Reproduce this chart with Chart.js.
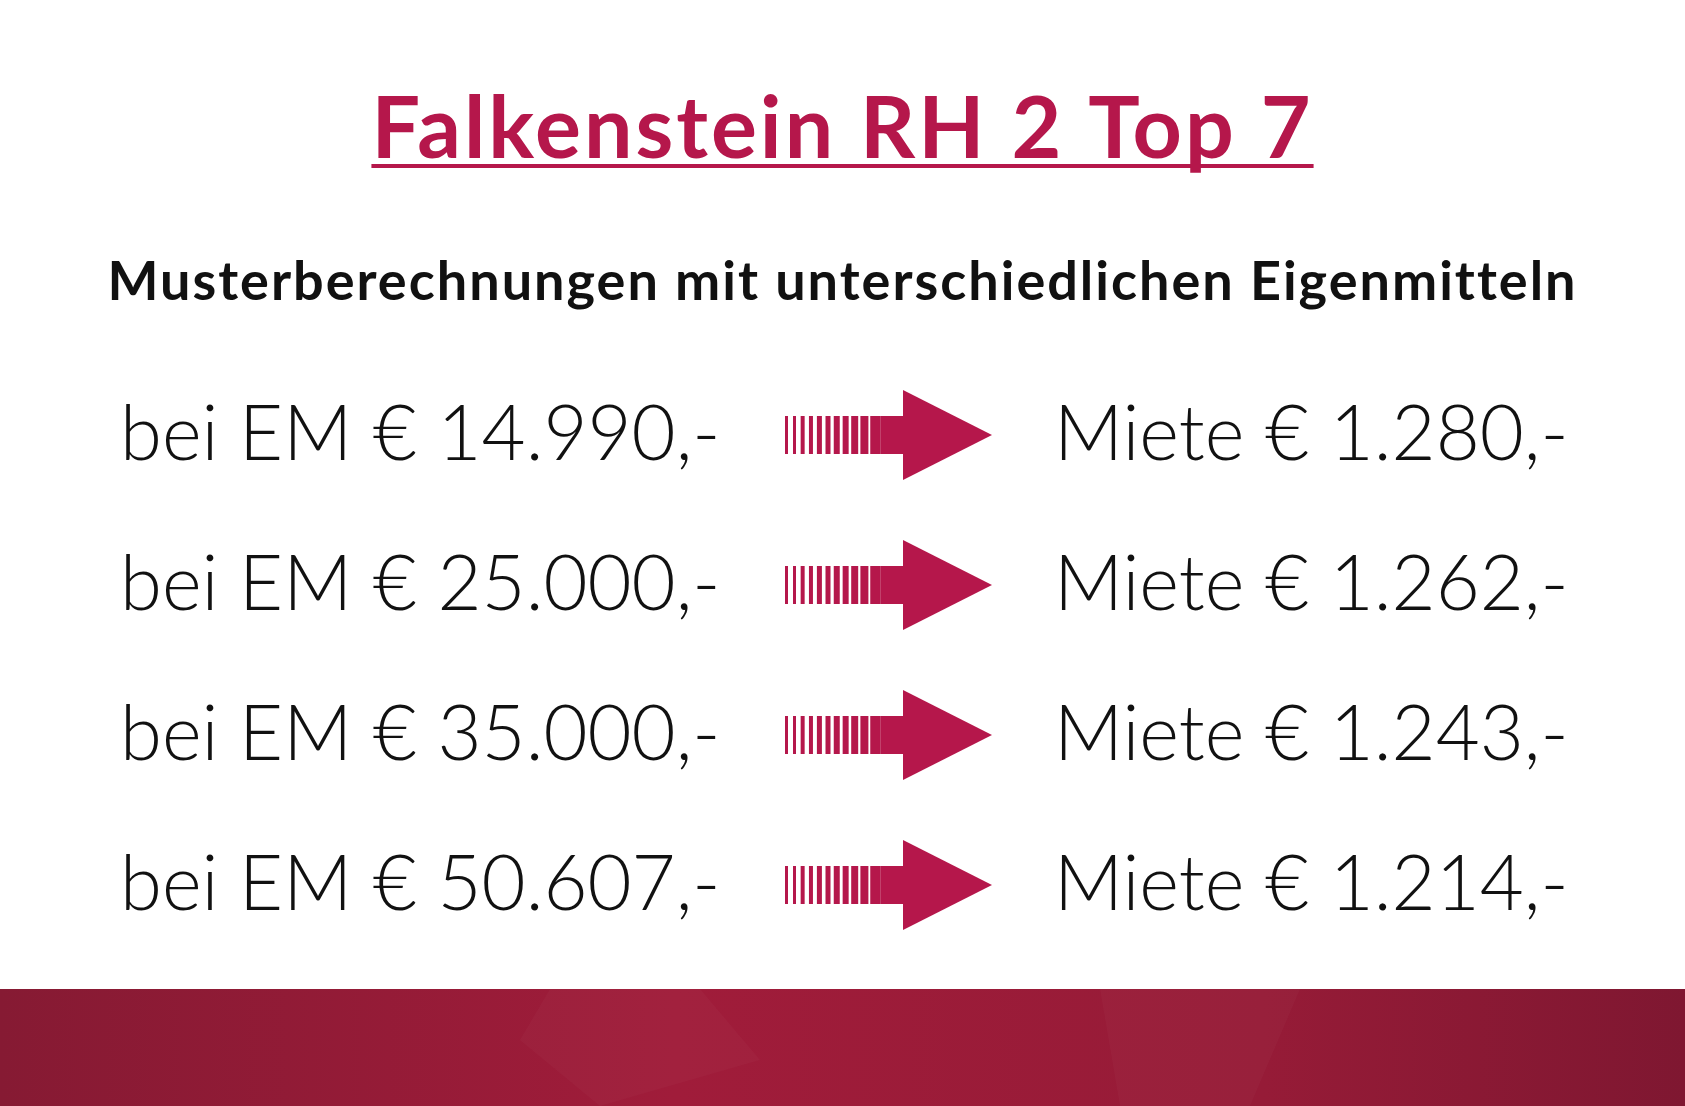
<!DOCTYPE html>
<html><head><meta charset="utf-8">
<script src="https://cdn.jsdelivr.net/npm/chart.js@4/dist/chart.umd.min.js"></script>
<style>html,body{margin:0;padding:0;background:#fff;overflow:hidden}#c{display:block}</style>
</head><body>
<div style="width:1685px;height:1106px;position:relative"><canvas id="c"></canvas></div>
<script>
const title = "Falkenstein RH 2 Top 7";
const subtitle = "Musterberechnungen mit unterschiedlichen Eigenmitteln";
const rows = ["r1","r2","r3","r4"];
const eigenmittel = ["14.990", "25.000", "35.000", "50.607"];
const miete = ["1.280", "1.262", "1.243", "1.214"];
const RED = "#b5174b";

const drawPlugin = {
  id: "infographic",
  afterDraw(chart) {
    const ctx = chart.ctx, y = chart.scales.y, W = chart.width, H = chart.height;
    ctx.save();
    const g = ctx.createLinearGradient(0, 0, W, 0);
    g.addColorStop(0, "#861a33"); g.addColorStop(0.4, "#a01c3a"); g.addColorStop(0.75, "#961b37"); g.addColorStop(1, "#7f1731");
    ctx.fillStyle = g; ctx.fillRect(0, 989, W, H - 989);
    ctx.fillStyle = "rgba(255,255,255,0.025)";
    ctx.beginPath(); ctx.moveTo(550,989); ctx.lineTo(700,989); ctx.lineTo(760,1060); ctx.lineTo(600,1106); ctx.lineTo(520,1040); ctx.fill();
    ctx.beginPath(); ctx.moveTo(1100,989); ctx.lineTo(1300,989); ctx.lineTo(1250,1106); ctx.lineTo(1120,1106); ctx.fill();
    ctx.fillStyle = RED; ctx.textAlign = "center"; ctx.textBaseline = "alphabetic";
    ctx.font = "bold 86px Lato, 'Open Sans', sans-serif";
    ctx.letterSpacing = "3px";
    ctx.fillText(title, W/2, 158);
    const tw = ctx.measureText(title).width;
    ctx.fillRect(W/2 - tw/2, 164, tw, 4);
    ctx.fillStyle = "#111";
    ctx.font = "bold 54px Lato, 'Open Sans', sans-serif";
    ctx.letterSpacing = "2px";
    ctx.fillText(subtitle, W/2, 300);
    ctx.letterSpacing = "0px";
    ctx.textAlign = "left"; ctx.textBaseline = "middle";
    ctx.font = "300 76px Lato, 'Open Sans', sans-serif";
    rows.forEach((r, i) => {
      const py = y.getPixelForValue(i);
      ctx.fillStyle = "#111";
      ctx.fillText("bei EM \u20ac " + eigenmittel[i] + ",-", 120, py);
      ctx.fillText("Miete \u20ac " + miete[i] + ",-", 1054, py);
      ctx.fillStyle = RED;
      const widths = [3,3,4,4,5,5,6,6,7,8,10];
      let x = 785;
      widths.forEach((w, k) => { ctx.fillRect(x, py - 19, w, 38); x += w + (k < 10 ? 5 - k*0.35 : 0); });
      ctx.fillRect(x, py - 19, 903 - x, 38);
      ctx.beginPath(); ctx.moveTo(903, py - 45); ctx.lineTo(992, py); ctx.lineTo(903, py + 45); ctx.closePath(); ctx.fill();
    });
    ctx.restore();
  }
};

new Chart(document.getElementById("c"), {
  type: "scatter",
  data: { labels: rows, datasets: [{ data: rows.map((r, i) => ({x: 0, y: r})), pointRadius: 0 }] },
  options: {
    responsive: true, maintainAspectRatio: false, animation: false,
    layout: { padding: { top: 360, bottom: 146, left: 0, right: 0 } },
    plugins: { legend: { display: false }, tooltip: { enabled: false } },
    scales: {
      x: { type: "linear", min: 0, max: 1, display: false },
      y: { type: "category", labels: rows, offset: true, display: false }
    }
  },
  plugins: [drawPlugin]
});
</script>
</body></html>
